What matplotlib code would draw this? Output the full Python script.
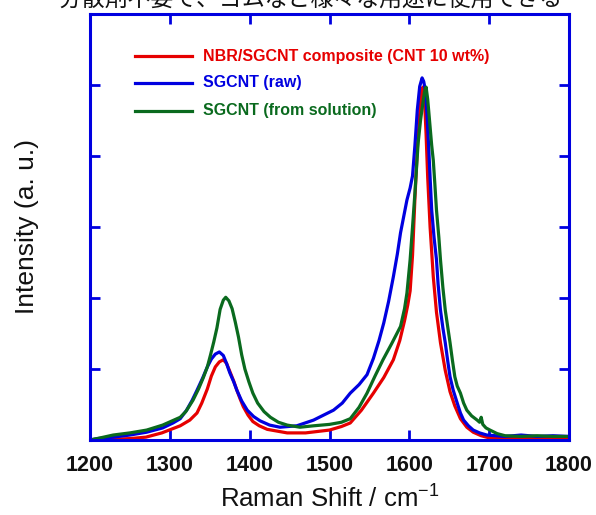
import matplotlib.pyplot as plt

# Raman shift / intensity
red_x = [1200, 1230, 1250, 1270, 1290, 1313, 1325, 1334, 1340, 1347, 1352, 1357, 1362,
         1367, 1371, 1375, 1380, 1384, 1388, 1392, 1398, 1404, 1412, 1422, 1447, 1470,
         1500, 1515, 1526, 1540, 1555, 1568, 1580, 1588, 1594, 1598, 1601, 1604, 1607,
         1610, 1613, 1615, 1617, 1619, 1621, 1623, 1626, 1630, 1634, 1639, 1645, 1651,
         1657, 1664, 1672, 1680, 1690, 1700, 1720, 1740, 1760, 1780, 1800]
red_y = [0.00, 0.01, 0.02, 0.04, 0.10, 0.20, 0.28, 0.38, 0.52, 0.72, 0.90, 1.03, 1.10,
         1.13, 1.08, 0.97, 0.83, 0.70, 0.58, 0.47, 0.35, 0.26, 0.20, 0.15, 0.10, 0.10,
         0.14, 0.19, 0.24, 0.42, 0.66, 0.88, 1.13, 1.40, 1.68, 1.90, 2.10, 2.60, 3.40,
         4.10, 4.60, 4.90, 4.97, 4.80, 4.30, 3.70, 3.00, 2.30, 1.80, 1.37, 0.98, 0.68,
         0.48, 0.30, 0.18, 0.11, 0.06, 0.03, 0.02, 0.03, 0.02, 0.03, 0.02]

blue_x = [1200, 1209, 1229, 1250, 1271, 1291, 1304, 1313, 1321, 1328, 1334, 1341, 1347,
          1352, 1357, 1362, 1367, 1371, 1375, 1380, 1384, 1390, 1397, 1405, 1413, 1425,
          1438, 1459, 1480, 1505, 1516, 1526, 1537, 1547, 1555, 1562, 1568, 1574, 1580,
          1585, 1589, 1593, 1597, 1601, 1604, 1607, 1610, 1613, 1616, 1618, 1620, 1622,
          1624, 1626, 1628, 1631, 1634, 1636, 1639, 1642, 1645, 1648, 1651, 1655, 1660,
          1664, 1668, 1674, 1680, 1688, 1697, 1720, 1740, 1760, 1780, 1800]
blue_y = [0.00, 0.02, 0.04, 0.07, 0.11, 0.17, 0.24, 0.30, 0.42, 0.56, 0.70, 0.87, 1.03,
          1.14, 1.21, 1.24, 1.19, 1.08, 0.95, 0.82, 0.70, 0.55, 0.42, 0.33, 0.27, 0.21,
          0.18, 0.20, 0.28, 0.42, 0.52, 0.66, 0.78, 0.92, 1.15, 1.40, 1.65, 1.95, 2.30,
          2.62, 2.92, 3.15, 3.38, 3.55, 3.72, 4.15, 4.65, 4.98, 5.10, 5.05, 4.93, 4.60,
          4.18, 3.70, 3.24, 2.85, 2.54, 2.20, 1.83, 1.58, 1.37, 1.12, 0.89, 0.70, 0.52,
          0.38, 0.28, 0.20, 0.14, 0.10, 0.07, 0.05, 0.07, 0.05, 0.06, 0.05]

green_x = [1200, 1209, 1229, 1250, 1271, 1291, 1313, 1320, 1329, 1336, 1342, 1347, 1351,
           1355, 1359, 1363, 1367, 1370, 1374, 1378, 1382, 1386, 1390, 1394, 1399, 1404,
           1410, 1418, 1426, 1436, 1447, 1463, 1480, 1500, 1515, 1526, 1537, 1547, 1557,
           1567, 1578, 1589, 1594, 1597, 1601, 1604, 1607, 1611, 1614, 1617, 1619, 1621,
           1623, 1626, 1628, 1630, 1632, 1634, 1637, 1639, 1642, 1645, 1648, 1651, 1654,
           1657, 1660, 1664, 1668, 1672, 1678, 1685, 1688, 1690, 1692, 1696, 1701, 1710,
           1720, 1740, 1760, 1780, 1800]
green_y = [0.00, 0.02, 0.07, 0.10, 0.14, 0.21, 0.32, 0.40, 0.56, 0.72, 0.88, 1.03, 1.20,
           1.38, 1.58, 1.84, 1.97, 2.01, 1.96, 1.85, 1.66, 1.45, 1.20, 1.00, 0.82, 0.66,
           0.52, 0.40, 0.32, 0.25, 0.21, 0.18, 0.20, 0.22, 0.25, 0.30, 0.46, 0.66, 0.90,
           1.13, 1.36, 1.60, 1.85, 2.07, 2.54, 3.00, 3.48, 4.18, 4.50, 4.75, 4.90, 4.97,
           4.80, 4.41, 4.15, 3.94, 3.60, 3.24, 2.85, 2.54, 2.15, 1.83, 1.60, 1.37, 1.12,
           0.89, 0.76, 0.66, 0.52, 0.42, 0.34, 0.28, 0.25, 0.32, 0.22, 0.17, 0.14, 0.09,
           0.06, 0.05, 0.06, 0.05, 0.05]

labels = ['NBR/SGCNT composite (CNT 10 wt%)', 'SGCNT (raw)', 'SGCNT (from solution)']
colors = ['#e60000', '#0000e0', '#0a6a1e']
frame = '#0000e0'

fig = plt.figure(figsize=(5.96, 5.15), dpi=100)
ax = fig.add_axes([90 / 596, 75 / 515, 479 / 596, 426 / 515])

ax.plot(red_x, red_y, color=colors[0], lw=2.3)
ax.plot(blue_x, blue_y, color=colors[1], lw=2.3)
ax.plot(green_x, green_y, color=colors[2], lw=2.3)

ax.set_xlim(1200, 1800)
ax.set_ylim(0, 6)
ax.set_xticks([1200, 1300, 1400, 1500, 1600, 1700, 1800])
ax.set_yticks([1, 2, 3, 4, 5])
ax.set_yticklabels([])
for s in ax.spines.values():
    s.set_color(frame)
    s.set_linewidth(2.2)
ax.tick_params(direction='in', length=7, width=2, color=frame, top=True, right=True,
               labelsize=15.5, pad=11)
for t in ax.get_xticklabels():
    t.set_fontfamily('Liberation Sans')
    t.set_fontweight('bold')
    t.set_color('#111111')

ax.set_xlabel('Raman Shift / cm$^{\\mathregular{-1}}$', fontsize=18.5, family='Liberation Sans',
              labelpad=5, color='#111111')
ax.set_ylabel('Intensity (a. u.)', fontsize=19, family='Liberation Sans', labelpad=26,
              color='#111111')

# hand-placed legend like the original
rows = [56, 83, 111]
for lab, c, yp in zip(labels, colors, rows):
    yf = 1 - yp / 515
    fig.add_artist(plt.Line2D([135 / 596, 192 / 596], [yf, yf], color=c, lw=2.3))
    fig.text(203 / 596, yf, lab, color=c, fontsize=11.5, fontweight='bold',
             family='Liberation Sans', va='center')

# caption cut off at the top of the picture
fig.text(36 / 596, 1 - 6 / 515, '・分散剤不要で、ゴムなど様々な用途に使用できる',
         fontsize=16.5, family=['Noto Sans CJK JP', 'DejaVu Sans'], va='baseline',
         color='#111111')

fig.savefig('out.png', dpi=100)
